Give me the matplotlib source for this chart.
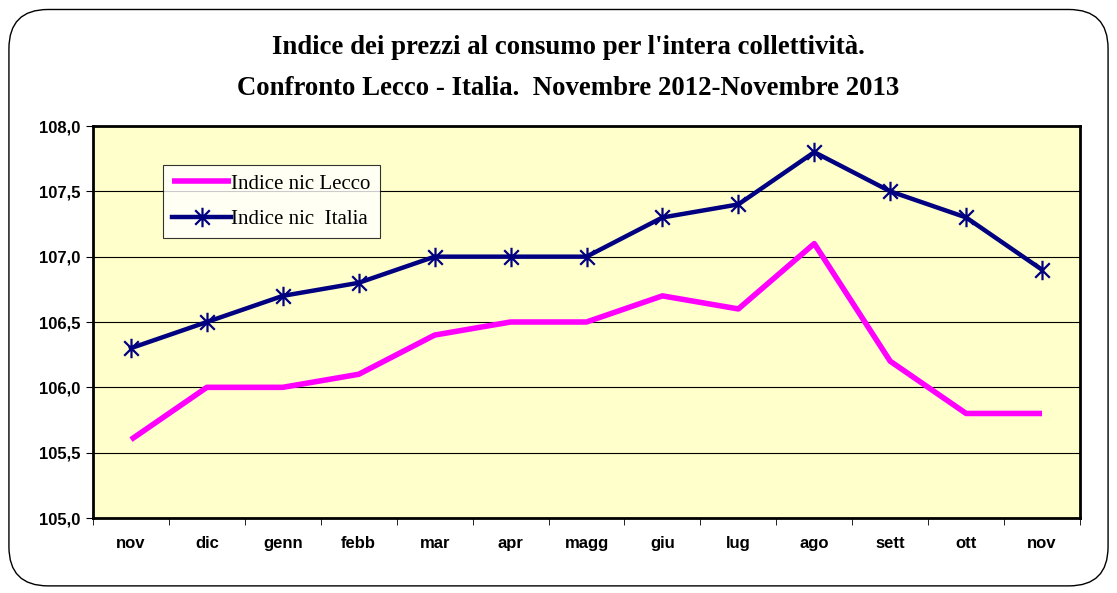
import matplotlib.pyplot as plt
from matplotlib.path import Path
from matplotlib.patches import FancyBboxPatch

mesi = ["nov", "dic", "genn", "febb", "mar", "apr", "magg", "giu", "lug", "ago", "sett", "ott", "nov"]
lecco = [105.6, 106.0, 106.0, 106.1, 106.4, 106.5, 106.5, 106.7, 106.6, 107.1, 106.2, 105.8, 105.8]
italia = [106.3, 106.5, 106.7, 106.8, 107.0, 107.0, 107.0, 107.3, 107.4, 107.8, 107.5, 107.3, 106.9]
yticks = [105.0, 105.5, 106.0, 106.5, 107.0, 107.5, 108.0]

# asterisk like the excel one: vertical bar + X
star = Path([(0, -1), (0, 1), (-0.75, -0.75), (0.75, 0.75), (-0.75, 0.75), (0.75, -0.75)],
            [Path.MOVETO, Path.LINETO, Path.MOVETO, Path.LINETO, Path.MOVETO, Path.LINETO])

fig = plt.figure(figsize=(11.17, 5.93), dpi=100)
fig.patches.append(FancyBboxPatch((0.008, 0.012), 0.984, 0.972, boxstyle="round,pad=0,rounding_size=0.035",
                                  transform=fig.transFigure, facecolor="white", edgecolor="black",
                                  linewidth=1.0, mutation_aspect=1117 / 593, zorder=-10))

ax = fig.add_axes([93 / 1117, 1 - 518 / 593, 987 / 1117, 392 / 593])
ax.set_facecolor("#FFFFCC")
x = range(len(mesi))
ax.plot(x, lecco, color="#FF00FF", linewidth=4.0, solid_capstyle="butt", label="Indice nic Lecco")
ax.plot(x, italia, color="#000080", linewidth=3.2, marker=star, markersize=14, markeredgewidth=1.6,
        label="Indice nic  Italia")

ax.set_xlim(-0.5, len(mesi) - 0.5)
ax.set_ylim(105.0, 108.0)
ax.set_yticks(yticks)
ax.set_yticklabels([("%.1f" % v).replace(".", ",") for v in yticks], fontsize=12, fontweight="bold",
                   family="Liberation Sans")
ax.set_xticks(list(x))
ax.set_xticklabels(mesi, fontsize=12, fontweight="bold", family="Liberation Sans")
ax.set_xticks([i - 0.5 for i in range(len(mesi) + 1)], minor=True)
ax.tick_params(axis="x", which="major", length=0, pad=13)
ax.tick_params(axis="x", which="minor", length=5, direction="out")
ax.tick_params(axis="y", length=5, direction="out", pad=4)
ax.yaxis.grid(True, color="black", linewidth=0.8)
ax.set_axisbelow(True)
for s in ax.spines.values():
    s.set_linewidth(2)

leg = ax.legend(loc="upper left", bbox_to_anchor=(0.071, 0.901), frameon=True, fancybox=False,
                prop={"family": "Liberation Serif", "size": 15}, handlelength=2.8, handletextpad=0.0,
                borderpad=0.45, labelspacing=0.75, borderaxespad=0)
leg.get_frame().set_edgecolor("black")
leg.get_frame().set_linewidth(0.8)

fig.text(568 / 1117, 1 - 48 / 593, "Indice dei prezzi al consumo per l'intera collettività.", ha="center",
         va="center", fontsize=19.3, fontweight="bold", family="Liberation Serif")
fig.text(568 / 1117, 1 - 88 / 593, "Confronto Lecco - Italia.  Novembre 2012-Novembre 2013", ha="center",
         va="center", fontsize=19.3, fontweight="bold", family="Liberation Serif")

fig.savefig("out.png", dpi=100)
